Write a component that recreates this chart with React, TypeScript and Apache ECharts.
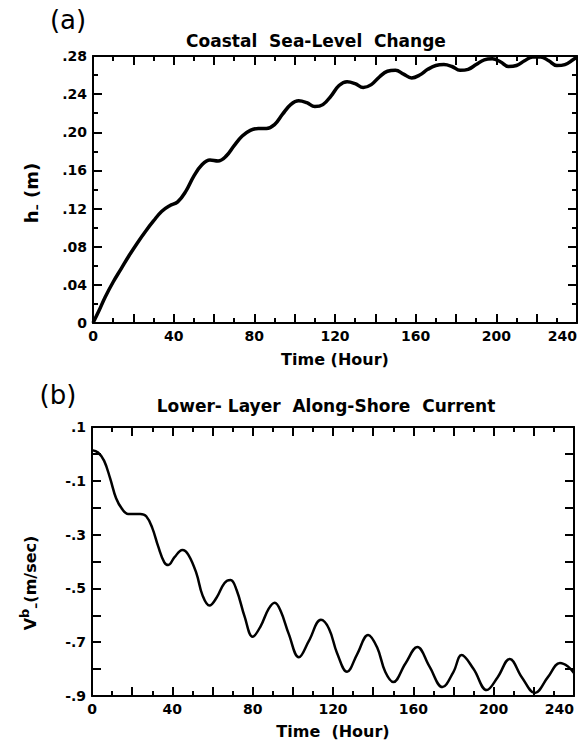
import React, { useEffect, useRef } from "react";
import * as echarts from "echarts";

// (a) Coastal sea-level change h_ (m) vs time (hour)
const hTime = [0, 3, 6, 10, 14, 18, 22, 26, 30, 34, 38, 42, 46, 50, 54, 58, 62, 66, 70, 74, 78, 82, 86, 90, 94, 98, 102, 106, 110, 114, 118, 122, 126, 130, 134, 138, 142, 146, 150, 154, 158, 162, 166, 170, 174, 178, 182, 186, 190, 194, 198, 202, 206, 210, 214, 218, 222, 226, 230, 234, 238, 240];
const hValue = [0, 0.013, 0.027, 0.043, 0.057, 0.071, 0.084, 0.096, 0.107, 0.117, 0.123, 0.127, 0.138, 0.154, 0.166, 0.171, 0.170, 0.175, 0.186, 0.196, 0.202, 0.204, 0.204, 0.208, 0.219, 0.229, 0.233, 0.231, 0.227, 0.229, 0.238, 0.249, 0.253, 0.251, 0.247, 0.250, 0.258, 0.264, 0.265, 0.261, 0.257, 0.260, 0.266, 0.270, 0.271, 0.269, 0.265, 0.266, 0.271, 0.276, 0.277, 0.274, 0.269, 0.270, 0.275, 0.279, 0.279, 0.275, 0.270, 0.271, 0.276, 0.279];

// (b) Lower-layer along-shore current V^b_ (m/sec) vs time (hour)
const vTime = [0, 3, 6, 9, 12, 15, 18, 21, 24, 27, 30, 33, 36, 38, 41, 45, 48, 52, 55, 58.5, 62, 66, 69, 72, 76, 80, 84, 88, 91, 94, 98, 103, 108, 114, 118, 122, 127, 132, 137.5, 142, 146, 150, 156, 162, 168, 174.5, 180, 184, 190, 196.5, 202, 208, 214, 220.5, 227, 233, 237, 240];
const vValue = [0.014, 0.005, -0.025, -0.09, -0.165, -0.205, -0.223, -0.223, -0.223, -0.232, -0.275, -0.345, -0.403, -0.413, -0.385, -0.357, -0.375, -0.444, -0.525, -0.564, -0.535, -0.48, -0.469, -0.506, -0.605, -0.68, -0.64, -0.575, -0.553, -0.585, -0.67, -0.756, -0.695, -0.617, -0.65, -0.74, -0.81, -0.745, -0.673, -0.72, -0.81, -0.848, -0.78, -0.718, -0.79, -0.867, -0.81, -0.748, -0.8, -0.878, -0.83, -0.762, -0.83, -0.889, -0.83, -0.777, -0.79, -0.815];

const FONT = '"DejaVu Sans", sans-serif';
const BLACK = "#000";

function xAxisDef(gridIndex: number, position: string, showLabel: boolean, name: string, nameGap: number) {
  return {
    type: "value",
    gridIndex,
    position,
    min: 0,
    max: 240,
    interval: 20,
    axisLine: { show: true, onZero: false, lineStyle: { color: BLACK, width: 2 } },
    axisTick: { show: true, inside: true, length: 9, lineStyle: { color: BLACK, width: 2 } },
    minorTick: { show: true, splitNumber: 2, length: 5, lineStyle: { color: BLACK, width: 2 } },
    splitLine: { show: false },
    axisLabel: {
      show: showLabel,
      formatter: (v: number) => (Math.round(v) % 40 === 0 ? String(Math.round(v)) : ""),
      color: BLACK,
      fontFamily: FONT,
      fontWeight: "bold",
      fontSize: 14,
      margin: 6,
      alignMaxLabel: "right",
    },
    name,
    nameLocation: "middle",
    nameGap,
    nameTextStyle: { color: BLACK, fontFamily: FONT, fontWeight: "bold", fontSize: 16 },
  };
}

function yAxisDef(gridIndex: number, position: string, showLabel: boolean, min: number, max: number, interval: number, minor: boolean, formatter: (v: number) => string) {
  return {
    type: "value",
    gridIndex,
    position,
    min,
    max,
    interval,
    axisLine: { show: true, onZero: false, lineStyle: { color: BLACK, width: 2 } },
    axisTick: { show: true, inside: true, length: 9, lineStyle: { color: BLACK, width: 2 } },
    minorTick: { show: minor, splitNumber: 2, length: 5, lineStyle: { color: BLACK, width: 2 } },
    splitLine: { show: false },
    axisLabel: {
      show: showLabel,
      formatter,
      color: BLACK,
      fontFamily: FONT,
      fontWeight: "bold",
      fontSize: 14,
      margin: 6,
    },
  };
}

const fmtTop = (v: number) => {
  const r = Math.round(v * 100);
  if (r === 0) return "0";
  return "." + String(r).padStart(2, "0");
};
const fmtBottom = (v: number) => {
  const r = Math.round(v * 10);
  if (Math.abs(r) % 2 !== 1) return "";
  return (r < 0 ? "-" : "") + "." + String(Math.abs(r));
};

export default function App() {
  const ref = useRef<HTMLDivElement>(null);
  useEffect(() => {
    const chart = echarts.init(ref.current!, null, { renderer: "svg" });
    const option: any = {
      animation: false,
      backgroundColor: "#fff",
      grid: [
        { left: 93, top: 56, width: 484, height: 267, outerBoundsMode: "none" },
        { left: 92, top: 427, width: 482, height: 269, outerBoundsMode: "none" },
      ],
      title: [
        { text: "Coastal  Sea-Level  Change", left: 316, top: 32, textAlign: "center", padding: 0, textStyle: { color: BLACK, fontFamily: FONT, fontWeight: "bold", fontSize: 17 } },
        { text: "Lower- Layer  Along-Shore  Current", left: 326, top: 397, textAlign: "center", padding: 0, textStyle: { color: BLACK, fontFamily: FONT, fontWeight: "bold", fontSize: 17 } },
      ],
      xAxis: [
        xAxisDef(0, "bottom", true, "Time (Hour)", 28),
        xAxisDef(0, "top", false, "", 0),
        xAxisDef(1, "bottom", true, "Time  (Hour)", 27),
        xAxisDef(1, "top", false, "", 0),
      ],
      yAxis: [
        yAxisDef(0, "left", true, 0, 0.28, 0.04, true, fmtTop),
        yAxisDef(0, "right", false, 0, 0.28, 0.04, true, fmtTop),
        yAxisDef(1, "left", true, -0.9, 0.1, 0.1, false, fmtBottom),
        yAxisDef(1, "right", false, -0.9, 0.1, 0.1, false, fmtBottom),
      ],
      graphic: [
        { type: "text", x: 68, y: 20, style: { text: "(a)", fill: BLACK, font: `26px ${FONT}`, textAlign: "center", textVerticalAlign: "middle" } },
        { type: "text", x: 58, y: 395, style: { text: "(b)", fill: BLACK, font: `26px ${FONT}`, textAlign: "center", textVerticalAlign: "middle" } },
        {
          type: "text",
          x: 31,
          y: 193,
          rotation: Math.PI / 2,
          style: {
            text: "{m|h}{s|–}{m| (m)}",
            textAlign: "center",
            textVerticalAlign: "middle",
            rich: {
              m: { fontFamily: FONT, fontWeight: "bold", fontSize: 18, fill: BLACK, lineHeight: 24, verticalAlign: "middle" },
              s: { fontFamily: FONT, fontWeight: "bold", fontSize: 12, fill: BLACK, lineHeight: 24, verticalAlign: "bottom" },
            },
          },
        },
        {
          type: "text",
          x: 30,
          y: 583,
          rotation: Math.PI / 2,
          style: {
            text: "{m|V}{p|b}{s|–}{m|(m/sec)}",
            textAlign: "center",
            textVerticalAlign: "middle",
            rich: {
              m: { fontFamily: FONT, fontWeight: "bold", fontSize: 16, fill: BLACK, lineHeight: 24, verticalAlign: "middle" },
              p: { fontFamily: FONT, fontWeight: "bold", fontSize: 13, fill: BLACK, lineHeight: 24, verticalAlign: "top" },
              s: { fontFamily: FONT, fontWeight: "bold", fontSize: 12, fill: BLACK, lineHeight: 24, verticalAlign: "bottom" },
            },
          },
        },
      ],
      series: [
        {
          type: "line",
          xAxisIndex: 0,
          yAxisIndex: 0,
          data: hTime.map((t, i) => [t, hValue[i]]),
          smooth: 0.4,
          symbol: "none",
          lineStyle: { color: BLACK, width: 3.5 },
          clip: false,
        },
        {
          type: "line",
          xAxisIndex: 2,
          yAxisIndex: 2,
          data: vTime.map((t, i) => [t, vValue[i]]),
          smooth: 0.4,
          symbol: "none",
          lineStyle: { color: BLACK, width: 2.5 },
          clip: false,
        },
      ],
    };
    chart.setOption(option);
    return () => chart.dispose();
  }, []);
  return <div ref={ref} style={{ position: "fixed", left: 0, top: 0, width: 587, height: 746, background: "#fff" }} />;
}
